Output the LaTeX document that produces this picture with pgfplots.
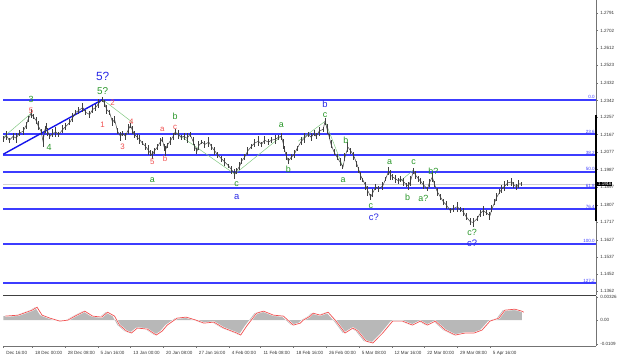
\documentclass[border=0pt]{standalone}
\usepackage{pgfplots}
\pgfplotsset{compat=1.18}
\usepackage{pgfplotstable}
\usepackage{fontspec}
\setmainfont{Liberation Sans}
\definecolor{fibblue}{RGB}{60,60,255}
\definecolor{chanblue}{RGB}{20,20,235}
\definecolor{wgreen}{RGB}{40,150,40}
\definecolor{wred}{RGB}{240,80,80}
\definecolor{wblue}{RGB}{40,40,230}
\definecolor{zzgreen}{RGB}{130,200,130}
\definecolor{macdred}{RGB}{240,80,80}

\pgfplotstableread{
x p e
0 1.2143 0.0016
3 1.2163 0.0022
6 1.2138 0.0012
10 1.2158 0.0019
13 1.2148 0.0025
16 1.2174 0.0014
20 1.2184 0.0020
23 1.2214 0.0017
25 1.2245 0.0016
28 1.2276 0.0022
30 1.2260 0.0012
33 1.2240 0.0019
35 1.2214 0.0025
38 1.2184 0.0014
40 1.2133 0.0030
42 1.2194 0.0017
43 1.2209 0.0016
45 1.2179 0.0022
47 1.2158 0.0012
50 1.2174 0.0019
53 1.2179 0.0025
56 1.2168 0.0014
60 1.2194 0.0020
63 1.2209 0.0017
67 1.2230 0.0016
70 1.2255 0.0022
73 1.2281 0.0012
76 1.2291 0.0019
80 1.2306 0.0025
83 1.2281 0.0014
87 1.2270 0.0020
90 1.2296 0.0017
93 1.2306 0.0016
96 1.2327 0.0022
100 1.2347 0.0012
102 1.2327 0.0019
104 1.2296 0.0025
107 1.2281 0.0014
110 1.2230 0.0020
112 1.2245 0.0017
115 1.2184 0.0016
118 1.2158 0.0022
120 1.2174 0.0012
123 1.2158 0.0019
126 1.2194 0.0025
128 1.2214 0.0014
130 1.2189 0.0020
132 1.2168 0.0017
135 1.2153 0.0016
137 1.2143 0.0022
140 1.2123 0.0012
143 1.2107 0.0019
146 1.2087 0.0025
148 1.2072 0.0014
150 1.2061 0.0020
152 1.2082 0.0017
155 1.2102 0.0016
158 1.2128 0.0022
160 1.2143 0.0012
162 1.2102 0.0019
163 1.2082 0.0025
165 1.2112 0.0014
168 1.2133 0.0020
171 1.2158 0.0017
173 1.2179 0.0016
176 1.2168 0.0022
179 1.2153 0.0012
182 1.2158 0.0019
185 1.2148 0.0025
188 1.2168 0.0014
191 1.2133 0.0020
193 1.2102 0.0017
195 1.2082 0.0016
197 1.2112 0.0022
200 1.2128 0.0012
203 1.2117 0.0019
207 1.2128 0.0025
210 1.2102 0.0014
213 1.2082 0.0020
216 1.2061 0.0017
220 1.2041 0.0016
223 1.2026 0.0022
227 1.2005 0.0012
230 1.1985 0.0019
233 1.1964 0.0025
235 1.1980 0.0014
238 1.2005 0.0020
240 1.2031 0.0017
243 1.2051 0.0016
246 1.2082 0.0022
250 1.2107 0.0012
253 1.2123 0.0019
257 1.2133 0.0025
260 1.2117 0.0014
263 1.2138 0.0020
267 1.2128 0.0017
270 1.2138 0.0016
274 1.2143 0.0022
277 1.2153 0.0012
280 1.2158 0.0019
282 1.2117 0.0025
283 1.2092 0.0014
285 1.2056 0.0020
287 1.2031 0.0017
290 1.2051 0.0016
293 1.2066 0.0022
296 1.2097 0.0012
300 1.2133 0.0019
303 1.2148 0.0025
307 1.2168 0.0014
310 1.2153 0.0020
313 1.2174 0.0017
315 1.2158 0.0016
318 1.2184 0.0022
322 1.2194 0.0012
324 1.2235 0.0019
326 1.2194 0.0025
328 1.2158 0.0014
330 1.2117 0.0020
333 1.2077 0.0017
336 1.2051 0.0016
339 1.2026 0.0022
342 1.2000 0.0012
344 1.2051 0.0019
347 1.2102 0.0025
350 1.2082 0.0014
353 1.2056 0.0020
356 1.2015 0.0017
358 1.1985 0.0016
360 1.1954 0.0022
362 1.1934 0.0012
365 1.1903 0.0019
367 1.1878 0.0025
370 1.1847 0.0014
372 1.1868 0.0020
375 1.1898 0.0017
378 1.1888 0.0016
382 1.1903 0.0022
385 1.1939 0.0012
388 1.1980 0.0019
390 1.1959 0.0025
392 1.1949 0.0014
395 1.1939 0.0020
398 1.1929 0.0017
400 1.1939 0.0016
403 1.1924 0.0022
406 1.1908 0.0012
408 1.1903 0.0019
410 1.1929 0.0025
413 1.1980 0.0014
415 1.1959 0.0020
418 1.1939 0.0017
420 1.1929 0.0016
423 1.1908 0.0022
427 1.1888 0.0012
429 1.1919 0.0019
432 1.1949 0.0025
434 1.1913 0.0014
437 1.1873 0.0020
440 1.1847 0.0017
443 1.1822 0.0016
446 1.1806 0.0022
450 1.1776 0.0012
453 1.1786 0.0019
457 1.1796 0.0025
460 1.1781 0.0014
463 1.1771 0.0020
466 1.1745 0.0017
470 1.1720 0.0016
473 1.1715 0.0022
477 1.1735 0.0012
480 1.1760 0.0019
483 1.1776 0.0025
486 1.1766 0.0014
490 1.1750 0.0020
492 1.1786 0.0017
495 1.1822 0.0016
497 1.1847 0.0022
500 1.1873 0.0012
502 1.1888 0.0019
505 1.1903 0.0025
508 1.1919 0.0014
512 1.1924 0.0020
514 1.1908 0.0017
517 1.1898 0.0016
519 1.1913 0.0022
522 1.1913 0.0012
}\price

\pgfplotstableread{
x v
0 0.00057
13 0.00071
27 0.00142
32 0.00184
37 0.00071
45 0.00028
55 -0.00014
63 0.00000
72 0.00071
80 0.00128
88 0.00057
97 0.00043
103 0.00113
110 0.00057
115 -0.00071
122 -0.00156
127 -0.00184
133 -0.00113
143 -0.00128
152 -0.00213
158 -0.00156
163 -0.00071
173 0.00028
182 0.00043
192 0.00000
200 -0.00043
210 -0.00028
220 -0.00113
233 -0.00184
237 -0.00213
243 -0.00085
253 0.00099
260 0.00128
270 0.00071
280 0.00057
290 -0.00071
297 -0.00043
300 0.00000
307 0.00057
310 0.00099
317 0.00071
325 0.00113
333 -0.00014
342 -0.00184
350 -0.00113
355 -0.00156
363 -0.00298
370 -0.00326
380 -0.00184
390 -0.00014
400 -0.00014
410 -0.00071
418 -0.00014
425 -0.00071
433 -0.00014
443 -0.00142
453 -0.00213
463 -0.00184
472 -0.00184
480 -0.00142
488 -0.00014
497 0.00028
503 0.00142
513 0.00156
520 0.00128
522 0.00113
}\macd

\newcommand{\tk}{\fontsize{4.6}{5}\selectfont}
\newcommand{\fiblab}[3]{\node[anchor=south east,inner sep=0.3pt,text=fibblue,font=\fontsize{4.6}{5}\selectfont] at (axis cs:#1,#2) {#3};}
\newcommand{\wavg}[3]{\node[text=wgreen,font=\fontsize{9}{9}\selectfont,inner sep=0pt] at (axis cs:#1,#2) {#3};}
\newcommand{\wavr}[3]{\node[text=wred,font=\fontsize{8}{8}\selectfont,inner sep=0pt] at (axis cs:#1,#2) {#3};}
\newcommand{\wavb}[3]{\node[text=wblue,font=\fontsize{9.5}{9.5}\selectfont,inner sep=0pt] at (axis cs:#1,#2) {#3};}

\begin{document}
\begin{tikzpicture}
% ---------- main price panel
\begin{axis}[name=main, at={(0,0)}, anchor=south west, scale only axis,
  width=597bp, height=297bp,
  xmin=0, xmax=597, ymin=1.1341, ymax=1.2857,
  axis x line*=bottom, axis y line*=right,
  x axis line style={black!75, line width=1.3pt, -},
  y axis line style={black!55, line width=0.6pt, -},
  xtick=\empty,
  ytick={1.2791,1.2702,1.2612,1.2523,1.2432,1.2342,1.2257,1.2167,1.2077,1.1987,1.1897,1.1807,1.1717,1.1627,1.1537,1.1452,1.1362},
  yticklabels={1.2791,1.2702,1.2612,1.2523,1.2432,1.2342,1.2257,1.2167,1.2077,1.1987,1.1897,1.1807,1.1717,1.1627,1.1537,1.1452,1.1362},
  yticklabel style={font=\tk, anchor=west, xshift=-1.5bp, text=black!80},
  tick align=outside, major tick length=2bp, tick style={black!55},
  clip=false]
% current price line
\addplot[draw=black!18, line width=0.5pt] coordinates {(0,1.1913)(597,1.1913)};
% fib levels
\addplot[draw=fibblue, line width=2pt] coordinates {(0,1.2347)(597,1.2347)};
\addplot[draw=fibblue, line width=2pt] coordinates {(0,1.2172)(597,1.2172)};
\addplot[draw=fibblue, line width=2pt] coordinates {(0,1.2064)(597,1.2064)};
\addplot[draw=fibblue, line width=2pt] coordinates {(0,1.1977)(597,1.1977)};
\addplot[draw=fibblue, line width=2pt] coordinates {(0,1.1890)(597,1.1890)};
\addplot[draw=fibblue, line width=2pt] coordinates {(0,1.1782)(597,1.1782)};
\addplot[draw=fibblue, line width=2pt] coordinates {(0,1.1607)(597,1.1607)};
\addplot[draw=fibblue, line width=2pt] coordinates {(0,1.1406)(597,1.1406)};
\fiblab{596}{1.2347}{0.0}
\fiblab{596}{1.2172}{23.6}
\fiblab{596}{1.2064}{38.2}
\fiblab{596}{1.1977}{50.0}
\fiblab{596}{1.1890}{61.8}
\fiblab{596}{1.1782}{76.4}
\fiblab{596}{1.1607}{100.0}
\fiblab{596}{1.1406}{127.2}
% zigzag wave lines
\addplot[draw=zzgreen, line width=0.5pt] coordinates {(0,1.2153)(28,1.2276)};
\addplot[draw=zzgreen, line width=0.5pt] coordinates {(100,1.2347)(130,1.2230)};
\addplot[draw=zzgreen, line width=0.5pt] coordinates {(173,1.2179)(233,1.1964)(280,1.2158)};
\addplot[draw=zzgreen, line width=0.5pt] coordinates {(297,1.2133)(324,1.2235)(342,1.2000)};
\addplot[draw=zzgreen, line width=0.5pt] coordinates {(400,1.1929)(413,1.1985)};
% channel line
\addplot[draw=chanblue, line width=1.4pt] coordinates {(0,1.2066)(100,1.2347)};
% price bars
\addplot[draw=black!75, line width=0.5pt, mark=none,
  error bars/.cd, y dir=both, y explicit,
  error bar style={black!75, line width=1pt}, error mark=none]
  table[x=x, y=p, y error=e] {\price};
% right axis range segment
\draw[black, line width=1.6pt] (axis cs:597,1.2265) -- (axis cs:597,1.1725);
% current price box
\node[fill=black, text=white, font=\fontsize{4.4}{5}\selectfont, inner sep=0.8pt, anchor=west] at (axis cs:598,1.1913) {1.1916};
% wave labels
\node[text=wblue,font=\fontsize{12}{12}\selectfont,inner sep=0pt] at (axis cs:100,1.2464) {5?};
\node[text=wgreen,font=\fontsize{10}{10}\selectfont,inner sep=0pt] at (axis cs:100,1.2388) {5?};
\wavg{28}{1.2347}{3}
\wavr{28}{1.2291}{5}
\wavg{46}{1.2102}{4}
\wavr{110}{1.2332}{2}
\wavr{100}{1.2219}{1}
\wavr{129}{1.2235}{4}
\wavr{120}{1.2102}{3}
\wavr{150}{1.2026}{5}
\wavr{160}{1.2194}{a}
\wavr{163}{1.2041}{b}
\wavr{173}{1.2204}{c}
\wavg{173}{1.2260}{b}
\wavg{150}{1.1934}{a}
\wavg{235}{1.1913}{c}
\wavb{235}{1.1847}{a}
\wavg{280}{1.2214}{a}
\wavg{287}{1.1990}{b}
\wavb{324}{1.2321}{b}
\wavg{324}{1.2268}{c}
\wavg{345}{1.2138}{b}
\wavg{342}{1.1934}{a}
\wavg{389}{1.2026}{a}
\wavg{370}{1.1801}{c}
\wavb{373}{1.1740}{c?}
\wavg{413}{1.2026}{c}
\wavg{407}{1.1847}{b}
\wavg{433}{1.1980}{b?}
\wavg{423}{1.1837}{a?}
\wavg{472}{1.1664}{c?}
\wavb{472}{1.1607}{c?}
\end{axis}
% ---------- MACD panel
\begin{axis}[at={(main.south west)}, anchor=north west, yshift=-1bp, scale only axis,
  width=597bp, height=50bp,
  xmin=0, xmax=597, ymin=-0.00368, ymax=0.0034,
  scaled y ticks=false,
  axis x line*=bottom, axis y line*=right,
  axis line style={black!55, line width=0.6pt, -},
  xtick={0,29,62,95,128,161,194,227,259,292,325,358,391,424,457,490},
  xticklabels={Dec 16:00,18 Dec 00:00,28 Dec 08:00,5 Jan 16:00,13 Jan 00:00,20 Jan 08:00,27 Jan 16:00,4 Feb 00:00,11 Feb 08:00,18 Feb 16:00,26 Feb 00:00,5 Mar 08:00,12 Mar 16:00,22 Mar 00:00,29 Mar 08:00,5 Apr 16:00},
  xticklabel style={font=\tk, anchor=north west, xshift=-0.5bp, yshift=0.5bp, text=black!80},
  ytick={-0.0034,0,0.00326},
  yticklabels={-0.0109,0.00,0.00326},
  yticklabel style={font=\tk, anchor=west, xshift=-1.5bp, text=black!80},
  tick align=outside, major tick length=2bp, tick style={black!55},
  clip=false]
\addplot[fill=black!28, draw=none] table[x=x, y=v] {\macd} \closedcycle;
\addplot[draw=white, line width=1.6pt] table[x expr=\thisrow{x}+2, y=v] {\macd};
\addplot[draw=macdred, line width=0.7pt] table[x expr=\thisrow{x}+2, y=v] {\macd};
\end{axis}
\end{tikzpicture}
\end{document}
